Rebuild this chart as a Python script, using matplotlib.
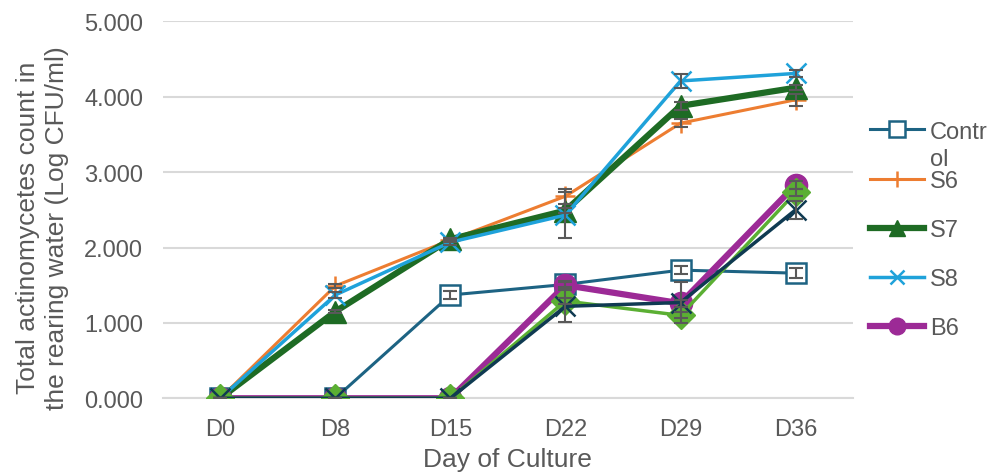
import matplotlib.pyplot as plt
import numpy as np

days = ["D0", "D8", "D15", "D22", "D29", "D36"]

control = [0.0, 0.0, 1.37, 1.51, 1.70, 1.66]
control_err = [0.0, 0.0, 0.05, 0.04, 0.05, 0.07]
s6 = [0.0, 1.49, 2.10, 2.68, 3.65, 3.96]
s6_err = [0.0, 0.03, 0.03, 0.10, 0.05, 0.08]
s7 = [0.0, 1.15, 2.11, 2.49, 3.88, 4.12]
s7_err = [0.0, 0.02, 0.02, 0.03, 0.05, 0.03]
s8 = [0.0, 1.37, 2.07, 2.43, 4.21, 4.31]
s8_err = [0.0, 0.04, 0.03, 0.30, 0.09, 0.05]
b6 = [0.0, 0.0, 0.0, 1.50, 1.26, 2.83]
b6_err = [0.0, 0.0, 0.0, 0.04, 0.05, 0.05]
b7 = [0.0, 0.0, 0.0, 1.29, 1.10, 2.73]
b7_err = [0.0, 0.0, 0.0, 0.04, 0.04, 0.05]
b8 = [0.0, 0.0, 0.0, 1.22, 1.27, 2.50]
b8_err = [0.0, 0.0, 0.0, 0.21, 0.27, 0.12]

plt.rcParams['font.family'] = ['Liberation Sans', 'DejaVu Sans']
grey = '#595959'
fs = 17
fs_title = 19

fig = plt.figure(figsize=(9.92, 4.77), dpi=100)
ax = fig.add_axes([0.164, 0.163, 0.696, 0.79])
x = np.arange(len(days))

series = [
    ("Contr", control, control_err, '#1D6383', 's', 2.2, dict(ms=15, mfc='white', mew=1.8)),
    ("S6", s6, s6_err, '#ED7D31', '+', 2.2, dict(ms=15, mew=1.8)),
    ("S7", s7, s7_err, '#1E6B24', '^', 4.5, dict(ms=16)),
    ("S8", s8, s8_err, '#1FA2DA', 'x', 2.5, dict(ms=14, mew=1.8)),
    ("B6", b6, b6_err, '#9C2A96', 'o', 4.5, dict(ms=16)),
    ("_B7", b7, b7_err, '#5BAF33', 'D', 2.5, dict(ms=14)),
    ("_B8", b8, b8_err, '#0F3A52', 'x', 2.5, dict(ms=15, mew=1.8)),
]

handles = []
for name, vals, err, col, mk, lw, kw in series:
    h, = ax.plot(x, vals, color=col, marker=mk, lw=lw, label=name, zorder=3, **kw)
    ax.errorbar(x, vals, yerr=err, fmt='none', ecolor=grey, elinewidth=1.5,
                capsize=5, capthick=1.5, zorder=4)
    if not name.startswith('_'):
        handles.append(h)

ax.set_xlim(-0.5, 5.5)
ax.set_ylim(0, 5)
ax.set_yticks(np.arange(0, 5.01, 1))
ax.set_yticklabels([f"{v:.3f}" for v in np.arange(0, 5.01, 1)])
ax.set_xticks(x)
ax.set_xticklabels(days)
ax.yaxis.grid(True, color='#D9D9D9', lw=1.5)
ax.set_axisbelow(True)
for s in ax.spines.values():
    s.set_visible(False)
ax.spines['bottom'].set_visible(True)
ax.spines['bottom'].set_color('#D9D9D9')
ax.spines['bottom'].set_linewidth(1.5)
ax.tick_params(axis='y', length=0, labelsize=fs, colors=grey, pad=14)
ax.tick_params(axis='x', length=0, labelsize=fs, colors=grey, pad=14)
ax.set_xlabel("Day of Culture", fontsize=fs_title, color=grey, labelpad=5)
ax.set_ylabel("Total actinomycetes count in\nthe rearing water (Log CFU/ml)",
              fontsize=fs_title, color=grey, linespacing=1.3)
ax.yaxis.set_label_coords(-0.135, 0.455)

leg = fig.legend(handles=handles, loc='upper left', bbox_to_anchor=(0.877, 0.745),
                 frameon=False, fontsize=fs, labelcolor=grey, handlelength=2.3,
                 handletextpad=0.25, labelspacing=1.15, markerscale=0.75,
                 borderaxespad=0, borderpad=0)

# wrapped remainder of "Control" under the first legend label, as in the source
fig.canvas.draw()
bb = leg.get_texts()[0].get_window_extent()
fig.text(bb.x0 / fig.bbox.width, (bb.y0 - 5) / fig.bbox.height, "ol",
         fontsize=fs, color=grey, va='top', ha='left')

fig.savefig("out.png", dpi=100)
